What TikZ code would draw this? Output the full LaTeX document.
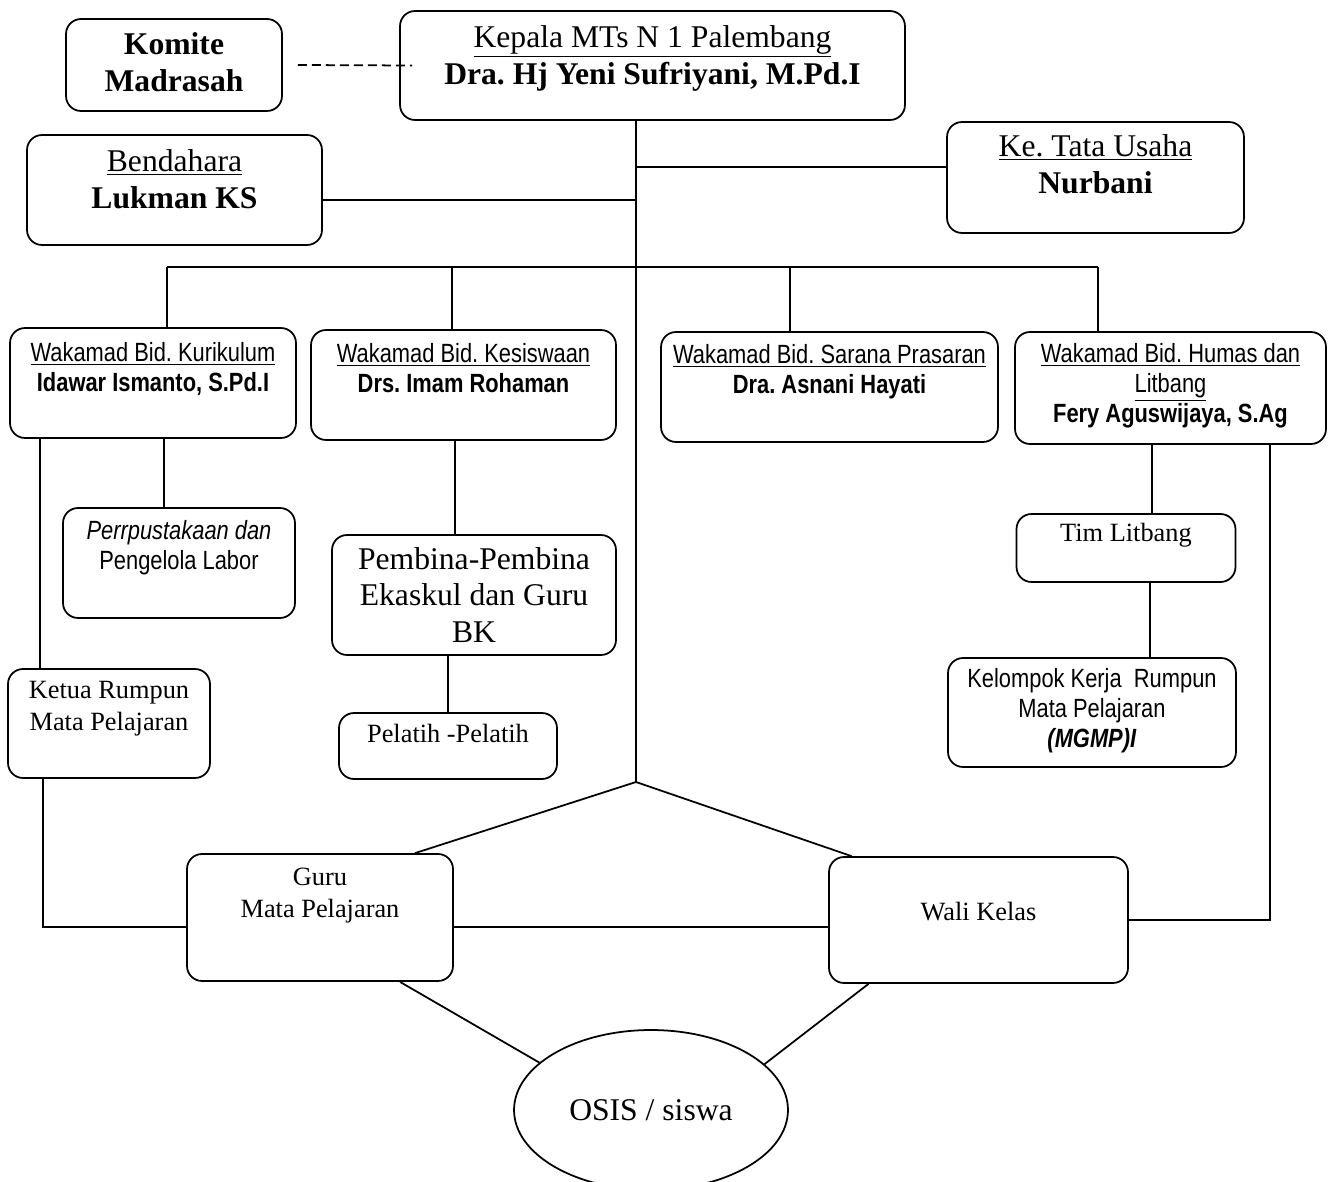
\documentclass[tikz,border=0pt]{standalone}
\usepackage{fontspec}
\setmainfont{Liberation Serif}
\newfontfamily\narrowsans[FakeStretch=0.83]{Liberation Sans}
\usetikzlibrary{positioning, shapes.geometric}
\frenchspacing
\tikzset{
box/.style={draw, rounded corners=0.3cm, line width=1pt, inner sep=0pt}, % every rounded frame
bigserif/.style={font=\fontsize{18}{21.3}\selectfont, align=center, inner sep=0pt},
smallserif/.style={font=\fontsize{15}{18.2}\selectfont, align=center, inner sep=0pt},
narrowtext/.style={font=\narrowsans\fontsize{15}{17.1}\selectfont, align=center, inner sep=0pt},
link/.style={line width=1pt}, % the connecting lines
node distance=0.26cm, % gap between the top of a frame and its text
}

\begin{document}
\begin{tikzpicture}[x=0.02cm, y=-0.02cm]
    \useasboundingbox (0,0) rectangle (1332,1182);
    % frames
    \node[box, minimum width=4.32cm, minimum height=1.84cm] (komite) at (174,65) {};
    \node[box, minimum width=10.1cm, minimum height=2.18cm] (kepala) at (652.5,65.5) {};
    \node[box, minimum width=5.9cm, minimum height=2.2cm] (bendahara) at (174.5,190) {};
    \node[box, minimum width=5.94cm, minimum height=2.22cm] (tu) at (1095.5,177.5) {};
    \node[box, minimum width=5.72cm, minimum height=2.2cm] (kurikulum) at (153,383) {};
    \node[box, minimum width=6.1cm, minimum height=2.2cm] (kesiswaan) at (463.5,385) {};
    \node[box, minimum width=6.74cm, minimum height=2.2cm] (sarana) at (829.5,387) {};
    \node[box, minimum width=6.22cm, minimum height=2.24cm] (humas) at (1170.5,388) {};
    \node[box, minimum width=4.64cm, minimum height=2.2cm] (perpus) at (179,563) {};
    \node[box, minimum width=5.68cm, minimum height=2.4cm] (pembina) at (474,595) {};
    \node[box, minimum width=4.04cm, minimum height=2.18cm] (ketua) at (109,723.5) {};
    \node[box, minimum width=4.36cm, minimum height=1.32cm] (pelatih) at (448,746) {};
    \node[box, minimum width=4.38cm, minimum height=1.36cm] (timlitbang) at (1126,548) {};
    \node[box, minimum width=5.76cm, minimum height=2.18cm] (kelompok) at (1092,712.5) {};
    \node[box, minimum width=5.32cm, minimum height=2.54cm] (guru) at (320,917.5) {};
    \node[box, minimum width=5.98cm, minimum height=2.52cm] (wali) at (978.5,920) {};
    \node[draw, ellipse, line width=1pt, minimum width=5.48cm, minimum height=3.2cm,
          font=\fontsize{18}{21.3}\selectfont] (osis) at (651,1110) {OSIS / siswa};

    % texts
    \node[bigserif, below=0.28cm of komite.north] (komiteT) {\textbf{Komite}\\\textbf{Madrasah}};
    \node[bigserif, below=0.3cm of kepala.north] (kepalaT)
        {\underline{Kepala MTs N 1 Palembang}\\\textbf{Dra. Hj Yeni Sufriyani, M.Pd.I}};
    \node[bigserif, below=0.3cm of bendahara.north] (bendaharaT) {\underline{Bendahara}\\\textbf{Lukman KS}};
    \node[bigserif, below=of tu.north] (tuT) {\underline{Ke. Tata Usaha}\\\textbf{Nurbani}};
    \node[narrowtext, below=0.3cm of kurikulum.north] (kurikulumT)
        {\underline{Wakamad Bid. Kurikulum}\\\textbf{Idawar Ismanto, S.Pd.I}};
    \node[narrowtext, below=0.28cm of kesiswaan.north] (kesiswaanT)
        {\underline{Wakamad Bid. Kesiswaan}\\\textbf{Drs. Imam Rohaman}};
    \node[narrowtext, below=of sarana.north] (saranaT)
        {\underline{Wakamad Bid. Sarana Prasaran}\\\textbf{Dra. Asnani Hayati}};
    \node[narrowtext, below=0.24cm of humas.north] (humasT)
        {\underline{Wakamad Bid. Humas dan}\\\underline{Litbang}\\\textbf{Fery Aguswijaya, S.Ag}};
    \node[narrowtext, below=of perpus.north] (perpusT) {\textit{Perrpustakaan dan}\\Pengelola Labor};
    \node[bigserif, font=\fontsize{18}{20.7}\selectfont, below=of pembina.north] (pembinaT)
        {Pembina-Pembina\\Ekaskul dan Guru\\BK};
    \node[smallserif, below=of ketua.north] (ketuaT) {Ketua Rumpun\\Mata Pelajaran};
    \node[smallserif, below=0.24cm of pelatih.north] (pelatihT) {Pelatih -Pelatih};
    \node[smallserif, below=0.2cm of timlitbang.north] (timlitbangT) {Tim Litbang};
    \node[narrowtext, below=0.22cm of kelompok.north] (kelompokT)
        {Kelompok Kerja\ \ Rumpun\\Mata Pelajaran\\\textbf{\textit{(MGMP)I}}};
    \node[smallserif, below=0.3cm of guru.north] (guruT) {Guru\\Mata Pelajaran};
    \node[smallserif, below=0.92cm of wali.north] (waliT) {Wali Kelas};

    % junctions
    \coordinate (apex) at (636,782);
    \coordinate (jt) at (636,167);
    \coordinate (jb) at (636,200);
    \coordinate (b1) at (167,267);
    \coordinate (b2) at (452,267);
    \coordinate (b3) at (790,267);
    \coordinate (b4) at (1098,267);

    % lines
    \draw[link, dash pattern=on 0.18cm off 0.1cm] ([xshift=0.3cm]komite.east) -- ([xshift=0.26cm]kepala.west);
    \draw[link] (kepala.south -| apex) -- (apex);
    \draw[link] (jt) -- (jt -| tu.west);
    \draw[link] (bendahara.east |- jb) -- (jb);
    \draw[link] (b1) -- (b4);
    \foreach \c/\n in {b1/kurikulum, b2/kesiswaan, b3/sarana, b4/humas}
        \draw[link] (\c) -- (\c |- \n.north);
    \draw[link] ([xshift=0.22cm]kurikulum.south) -- ([xshift=-0.3cm]perpus.north);
    \draw[link] ([xshift=-2.26cm]kurikulum.south) -- ([xshift=-1.38cm]ketua.north);
    \draw[link] ([xshift=-1.32cm]ketua.south) |- ([yshift=-0.19cm]guru.west);
    \draw[link] ([xshift=-0.17cm]kesiswaan.south) -- ([xshift=-0.38cm]pembina.north);
    \draw[link] (pelatih.north) -- (pelatih.north |- pembina.south);
    \draw[link] ([xshift=-0.37cm]humas.south) -- ([xshift=0.52cm]timlitbang.north);
    \draw[link] ([xshift=0.48cm]timlitbang.south) -- ([xshift=1.16cm]kelompok.north);
    \draw[link] ([xshift=1.99cm]humas.south) |- (wali.east);
    \draw[link] (apex) -- ([xshift=1.9cm]guru.north);
    \draw[link] (apex) -- ([xshift=-2.54cm]wali.north);
    \draw[link] ([yshift=-0.19cm]guru.east) -- ([yshift=-0.14cm]wali.west);
    \draw[link] ([xshift=1.6cm]guru.south) -- (osis.157);
    \draw[link] ([xshift=-2.2cm]wali.south) -- (osis.22);
\end{tikzpicture}
\end{document}
